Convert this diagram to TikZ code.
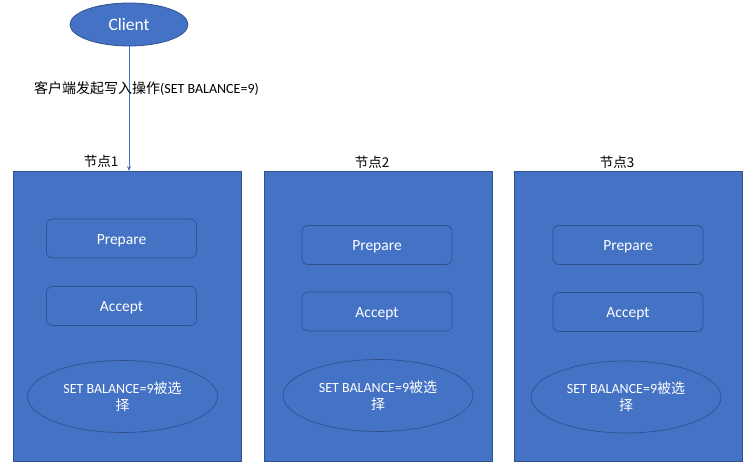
\documentclass[tikz,border=0pt]{standalone}
\usepackage{fontspec}
\setmainfont{Carlito}
\newfontfamily\cjk{Noto Sans CJK SC}
\usetikzlibrary{shapes.geometric,arrows.meta}
\definecolor{fillblue}{HTML}{4472C4}
\definecolor{edgeblue}{HTML}{2F528F}
\begin{document}
\begin{tikzpicture}[x=1pt,y=-1pt,
  nodebox/.style={draw=edgeblue,fill=fillblue,line width=0.8pt,minimum width=228,minimum height=290,inner sep=0},
  phase/.style={draw=edgeblue,fill=fillblue,line width=0.7pt,rounded corners=6pt,minimum width=150,minimum height=39,inner sep=0,text height=12pt,text depth=0.5pt,text=white,font=\fontsize{15.5}{18}\selectfont},
  chosen/.style={ellipse,draw=edgeblue,fill=fillblue,line width=0.7pt,minimum width=190,minimum height=72,inner sep=0,text=white,align=center,font=\fontsize{14}{17}\selectfont},
  nodelabel/.style={inner sep=0,font=\fontsize{13.5}{16}\selectfont\cjk},
  conn/.style={draw=fillblue,line width=0.7pt,-{Stealth[length=5pt,width=4pt]}}]
\useasboundingbox (0,0) rectangle (753,474);
% client
\node[ellipse,draw=edgeblue,fill=fillblue,line width=0.8pt,minimum width=118,minimum height=43,inner sep=0,text=white,font=\fontsize{17.5}{20}\selectfont] (client) at (129,24.5) {Client};
% node boxes
\node[nodebox] (b1) at (127.5,316.5) {};
\node[nodebox] (b2) at (378,316.5) {};
\node[nodebox] (b3) at (628,316.5) {};
% labels
\node[nodelabel] (l1) at (101,161) {节点1};
\node[nodelabel] (l2) at (372,162) {节点2};
\node[nodelabel] (l3) at (617,162) {节点3};
% phases
\node[phase] (p1) at (121.5,238.5) {Prepare};
\node[phase] (a1) at (121.5,306) {Accept};
\node[chosen] (c1) at (122.5,396.5) {SET BALANCE=9{\cjk 被选}\\{\cjk 择}};
\node[phase] (p2) at (377,245) {Prepare};
\node[phase] (a2) at (377,311.5) {Accept};
\node[chosen] (c2) at (378,395.5) {SET BALANCE=9{\cjk 被选}\\{\cjk 择}};
\node[phase] (p3) at (628,245) {Prepare};
\node[phase] (a3) at (628,312) {Accept};
\node[chosen] (c3) at (626,397) {SET BALANCE=9{\cjk 被选}\\{\cjk 择}};
% arrow
\draw[conn] (client.south) -- (client.south |- b1.north);
\node[inner sep=0,font=\fontsize{14}{16}\selectfont] (msg) at (146.5,89) {{\cjk 客户端发起写入操作}(SET BALANCE=9)};
\end{tikzpicture}
\end{document}
